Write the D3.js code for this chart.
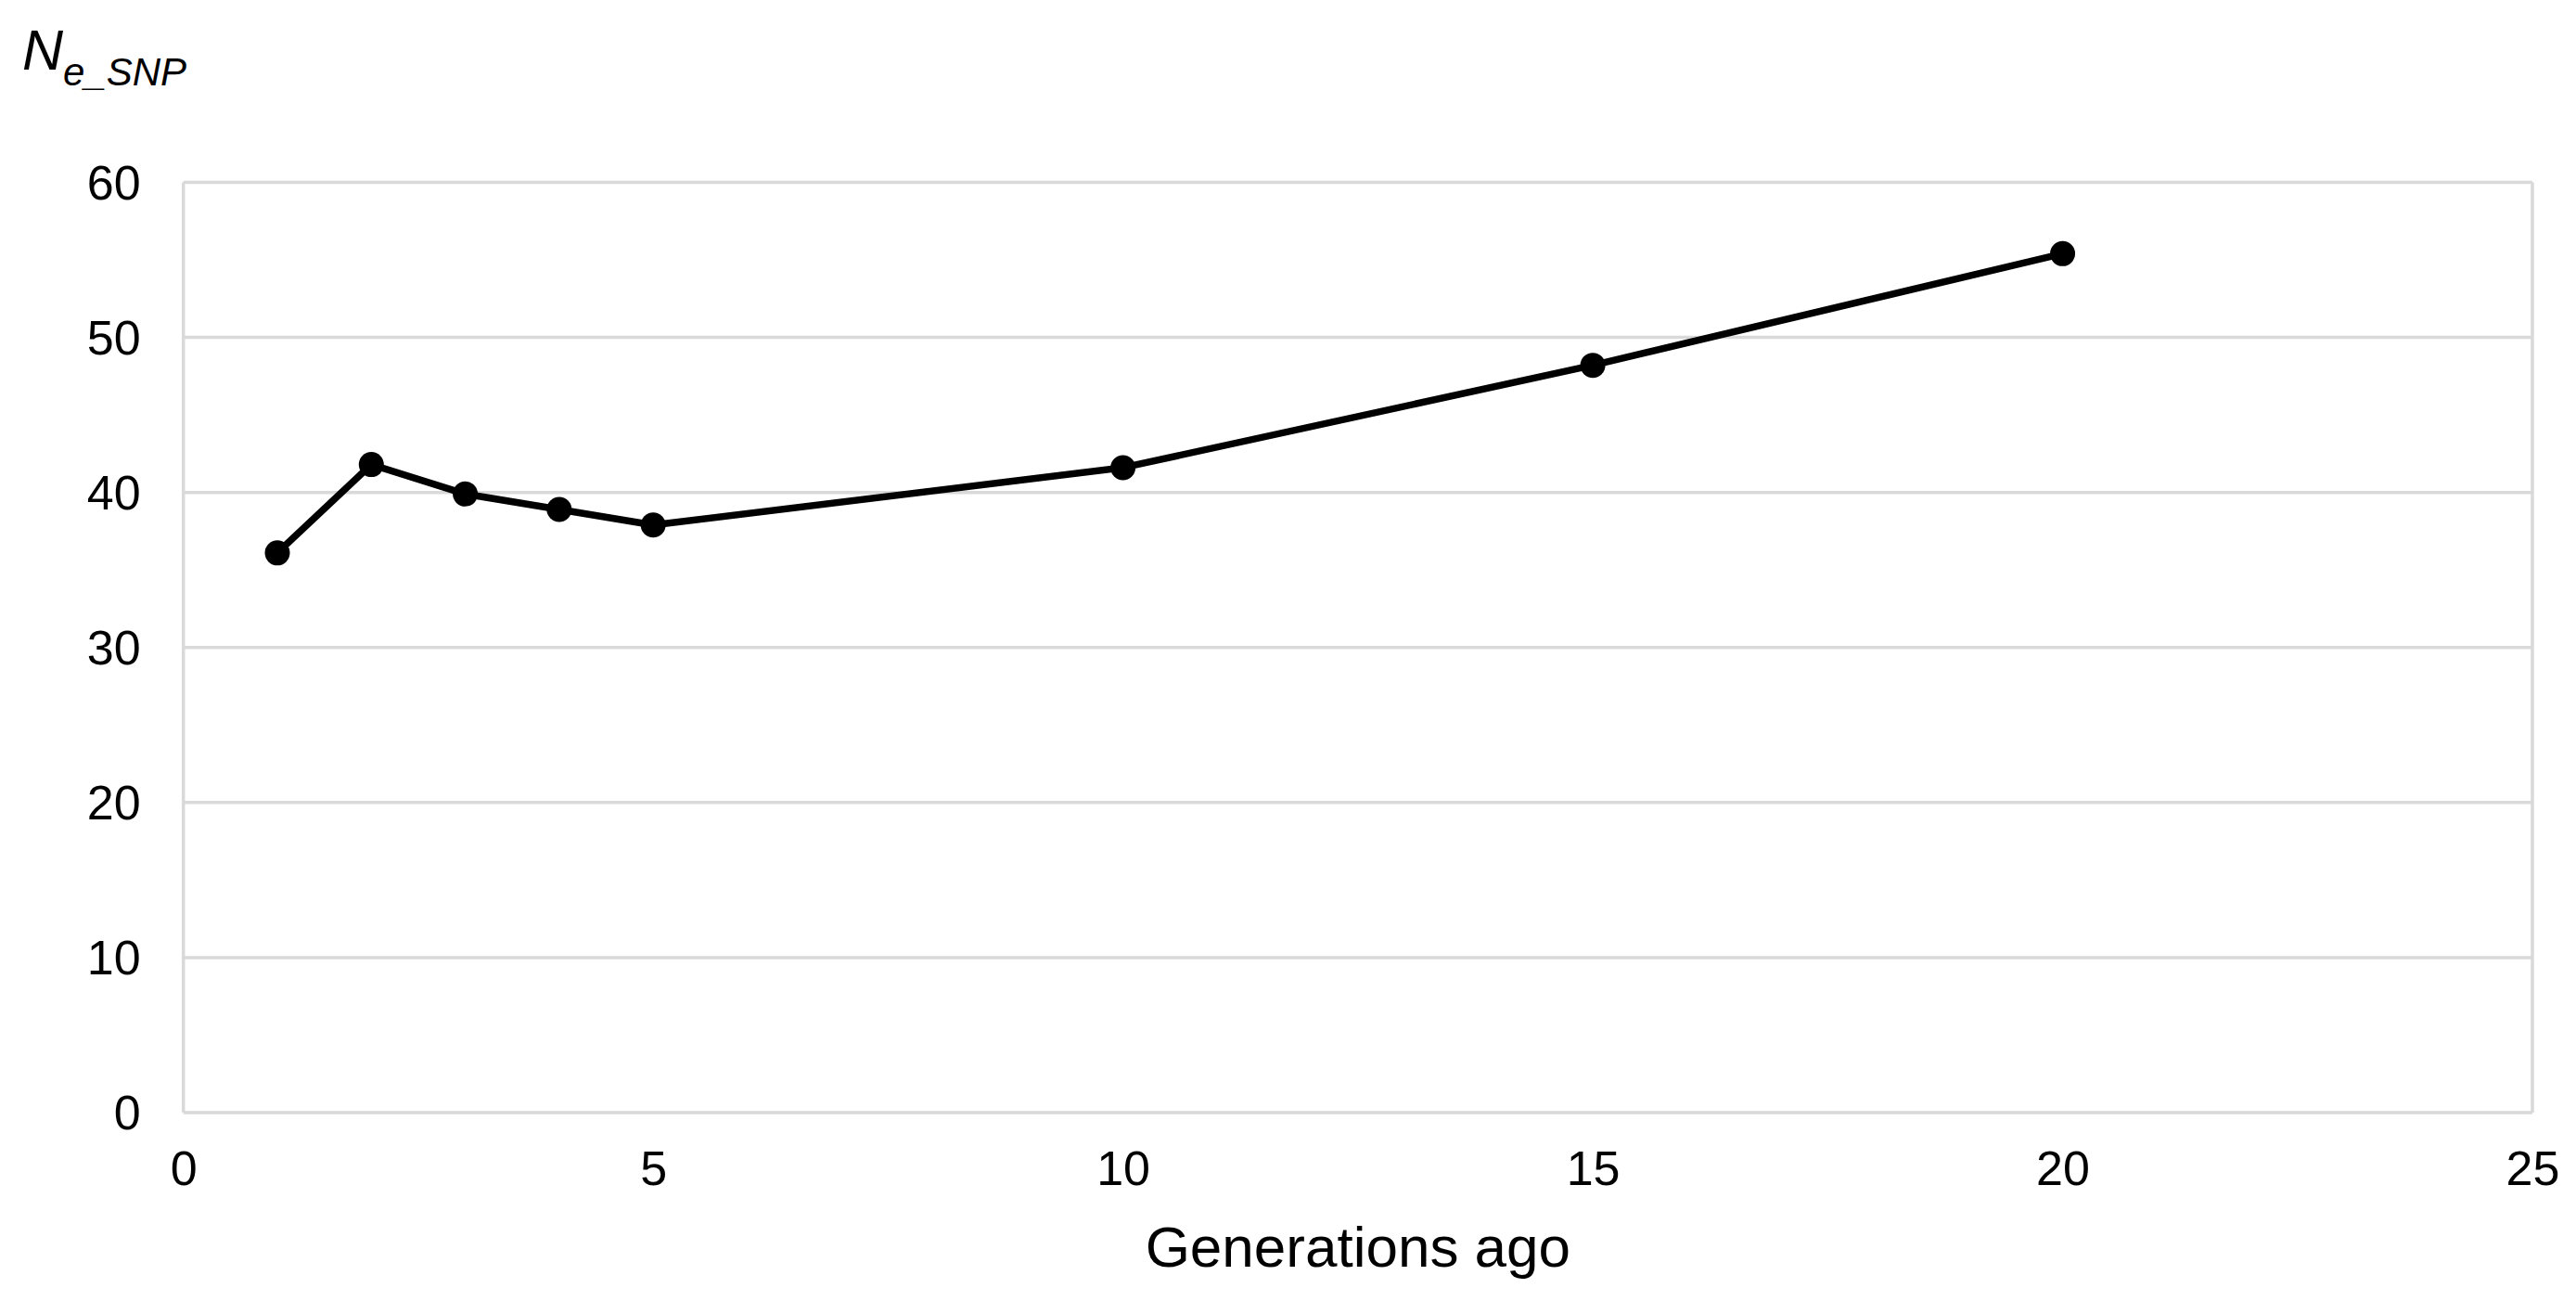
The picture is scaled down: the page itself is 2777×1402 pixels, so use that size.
<!DOCTYPE html>
<html>
<head>
<meta charset="utf-8">
<script src="https://cdn.jsdelivr.net/npm/d3@7"></script>
<style>
  html, body { margin: 0; padding: 0; background: #fff; }
  svg { display: block; }
  text { font-family: "Liberation Sans", Arial, sans-serif; fill: #000; }
</style>
</head>
<body>
<svg id="chart" width="2777" height="1402"></svg>
<script>
const generations = [1, 2, 3, 4, 5, 10, 15, 20];
const neSNP = [36.1, 41.8, 39.9, 38.9, 37.9, 41.6, 48.2, 55.4];
const xTicks = [0, 5, 10, 15, 20, 25];
const yTicks = [0, 10, 20, 30, 40, 50, 60];
const xTitle = "Generations ago";

const plotL = 197.7, plotR = 2730, plotT = 196.5, plotB = 1199;

const svg = d3.select("#chart");
const x = d3.scaleLinear().domain([0, 25]).range([plotL, plotR]);
const y = d3.scaleLinear().domain([0, 60]).range([plotB, plotT]);

// gridlines
svg.append("g").selectAll("line").data(yTicks).join("line")
  .attr("x1", plotL).attr("x2", plotR)
  .attr("y1", d => y(d)).attr("y2", d => y(d))
  .attr("stroke", "#d9d9d9").attr("stroke-width", 3.5);
// plot box sides
svg.append("line").attr("x1", plotL).attr("x2", plotL).attr("y1", plotT).attr("y2", plotB)
  .attr("stroke", "#d9d9d9").attr("stroke-width", 3.5);
svg.append("line").attr("x1", plotR).attr("x2", plotR).attr("y1", plotT).attr("y2", plotB)
  .attr("stroke", "#d9d9d9").attr("stroke-width", 3.5);

// y tick labels
const yAxis = d3.axisLeft(y).tickValues(yTicks).tickSize(0).tickPadding(46);
const gy = svg.append("g").attr("transform", `translate(${plotL},0)`).call(yAxis);
gy.select(".domain").remove();
gy.selectAll("text").attr("font-size", 52).attr("dy", "0.34em")
  .style("font-family", '"Liberation Sans", Arial, sans-serif').attr("fill", "#000");

// x tick labels
const xAxis = d3.axisBottom(x).tickValues(xTicks).tickSize(0).tickPadding(41);
const gx = svg.append("g").attr("transform", `translate(0,${plotB})`).call(xAxis);
gx.select(".domain").remove();
gx.selectAll("text").attr("font-size", 52).attr("dy", "0.71em")
  .style("font-family", '"Liberation Sans", Arial, sans-serif').attr("fill", "#000");

// x title
svg.append("text").attr("x", (plotL + plotR) / 2).attr("y", 1365).attr("text-anchor", "middle")
  .attr("font-size", 62).text(xTitle);

// y title N_e_SNP
const yt = svg.append("text").attr("x", 24).attr("y", 75).attr("font-style", "italic");
yt.append("tspan").attr("font-size", 61).text("N");
yt.append("tspan").attr("font-size", 42).attr("dy", 17).text("e_SNP");

// line
const data = generations.map((g, i) => ({ g, v: neSNP[i] }));
svg.append("path").datum(data)
  .attr("fill", "none").attr("stroke", "#000").attr("stroke-width", 7.5)
  .attr("stroke-linejoin", "round")
  .attr("d", d3.line().x(d => x(d.g)).y(d => y(d.v)));
svg.append("g").selectAll("circle").data(data).join("circle")
  .attr("cx", d => x(d.g)).attr("cy", d => y(d.v)).attr("r", 13.5).attr("fill", "#000");
</script>
</body>
</html>
